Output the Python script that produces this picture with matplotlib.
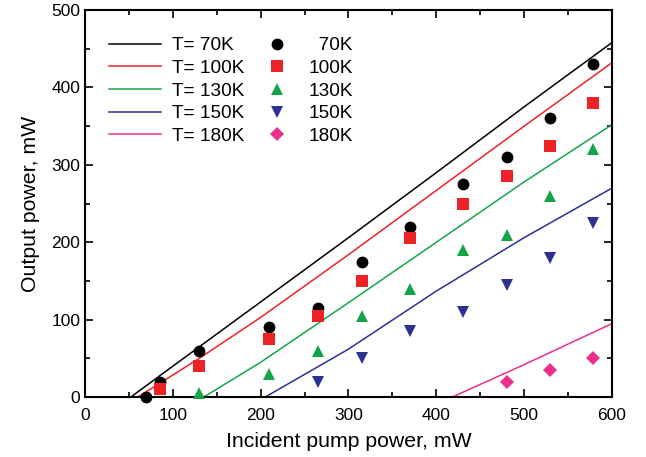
import numpy as np
import matplotlib
matplotlib.use('Agg')
from matplotlib import pyplot as plt
from matplotlib.ticker import MultipleLocator

plt.rcParams['font.family'] = ['Liberation Sans', 'DejaVu Sans']

temps = ['70K', '100K', '130K', '150K', '180K']
colors = ['#000000', '#ec2227', '#14a54b', '#2b3190', '#ea2f8f']
markers = ['o', 's', '^', 'v', 'D']

# measured points
meas_x = [
    [70, 85, 130, 210, 265, 315, 370, 430, 480, 530, 578],
    [85, 130, 210, 265, 315, 370, 430, 480, 530, 578],
    [130, 210, 265, 315, 370, 430, 480, 530, 578],
    [265, 315, 370, 430, 480, 530, 578],
    [480, 530, 578],
]
meas_y = [
    [0, 20, 60, 90, 115, 175, 220, 275, 310, 360, 430],
    [10, 40, 75, 105, 150, 205, 250, 285, 325, 380],
    [5, 30, 60, 105, 140, 190, 210, 260, 320],
    [20, 50, 85, 110, 145, 180, 225],
    [20, 35, 50],
]

# model curves
calc_x = [
    [0, 52, 100, 200, 300, 400, 500, 600],
    [0, 60, 130, 200, 300, 400, 500, 600],
    [0, 135, 200, 300, 400, 500, 600],
    [0, 205, 300, 400, 500, 600],
    [0, 418, 500, 600],
]
calc_y = [
    [0, 0, 40, 123, 206, 290, 375, 458],
    [0, 0, 50, 103, 184, 267, 350, 432],
    [0, 0, 45, 122, 200, 278, 352],
    [0, 0, 62, 137, 206, 270],
    [0, 0, 42, 95],
]

fig = plt.figure(figsize=(6.46, 4.57), dpi=100)
ax = fig.add_axes([0.1316, 0.131, 0.8157, 0.847])

line_handles = []
for i in range(len(temps)):
    h, = ax.plot(calc_x[i], calc_y[i], color=colors[i], lw=1.1, label='T= ' + temps[i])
    line_handles.append(h)

mark_handles = []
for i in range(len(temps)):
    ms = 7.5 if markers[i] == 'D' else 8.5
    lab = temps[i] if len(temps[i]) == 4 else '\u2007' + temps[i]
    h, = ax.plot(meas_x[i], meas_y[i], ls='none', marker=markers[i], color=colors[i],
                 markersize=ms, markeredgewidth=0, label=lab, clip_on=False, zorder=5)
    mark_handles.append(h)

ax.set_xlim(0, 600)
ax.set_ylim(0, 500)
ax.xaxis.set_major_locator(MultipleLocator(100))
ax.xaxis.set_minor_locator(MultipleLocator(50))
ax.yaxis.set_major_locator(MultipleLocator(100))
ax.yaxis.set_minor_locator(MultipleLocator(50))
ax.tick_params(which='both', direction='in', top=True, right=True, labelsize=12.5, width=1.2)
ax.tick_params(which='major', length=6)
ax.tick_params(which='minor', length=3.5)
ax.tick_params(axis='x', pad=8)
for s in ax.spines.values():
    s.set_linewidth(1.5)

ax.set_xlabel('Incident pump power, mW', fontsize=15.3, labelpad=6)
ax.set_ylabel('Output power, mW', fontsize=15.3, labelpad=8)

# two legend columns: model lines, then measured points
leg1 = ax.legend(handles=line_handles, frameon=False, loc='upper left',
                 bbox_to_anchor=(0.046, 0.93), fontsize=13.7, handlelength=2.7,
                 labelspacing=0.28, handletextpad=0.58, borderaxespad=0, borderpad=0)
ax.add_artist(leg1)
ax.legend(handles=mark_handles, frameon=False, loc='upper left',
          bbox_to_anchor=(0.346, 0.93), fontsize=13.7, handlelength=1.0,
          labelspacing=0.28, handletextpad=1.15, borderaxespad=0, borderpad=0)

plt.savefig('out.png', dpi=100)
